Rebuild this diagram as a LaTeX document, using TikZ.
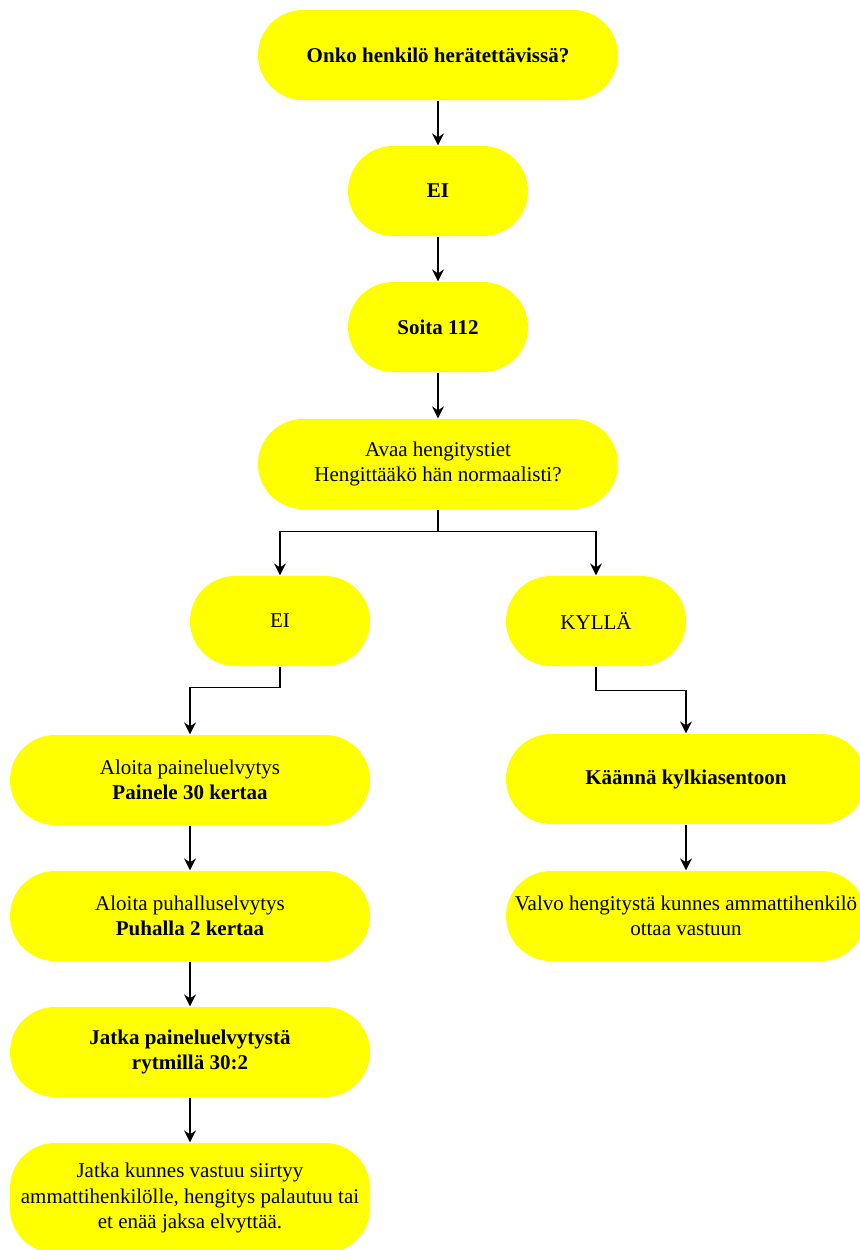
\documentclass[tikz,border=0pt]{standalone}
\usepackage{fontspec}
\setmainfont{Liberation Serif}
\usetikzlibrary{arrows.meta,positioning}
\definecolor{boxyellow}{RGB}{255,255,0}

\begin{document}
\begin{tikzpicture}[x=0.75pt,y=-0.75pt,>={Stealth[length=9pt,width=9pt,inset=3pt]},
 line width=0.9pt,
 font=\fontsize{15.75}{19}\selectfont,
 blk/.style={fill=boxyellow,rounded corners=33.75pt,minimum width=270pt,minimum height=67.5pt,inner sep=0pt,align=center},
 sblk/.style={blk,minimum width=135pt}]
\clip (0,0) rectangle (860,1250);
\node[blk] (q1) at (438,55) {\textbf{Onko henkilö herätettävissä?}};
\node[sblk] (ei1) at (438,191) {\textbf{EI}};
\node[sblk] (call) at (438,327) {\textbf{Soita 112}};
\node[blk] (airway) at (438,464) {Avaa hengitystiet\\Hengittääkö hän normaalisti?};
\node[sblk] (ei2) at (280,621) {EI};
\node[sblk] (kylla) at (596,621) {KYLLÄ};
\node[blk] (cpr) at (190,780) {Aloita paineluelvytys\\\textbf{Painele 30 kertaa}};
\node[blk] (breath) at (190,916) {Aloita puhalluselvytys\\\textbf{Puhalla 2 kertaa}};
\node[blk] (cont) at (190,1052) {\textbf{Jatka paineluelvytystä}\\\textbf{rytmillä 30:2}};
\node[blk,minimum height=82.5pt] (until) at (190,1198) {Jatka kunnes vastuu siirtyy\\ammattihenkilölle, hengitys palautuu tai\\et enää jaksa elvyttää.};
\node[blk] (side) at (686,779) {\textbf{Käännä kylkiasentoon}};
\node[blk] (watch) at (686,916) {Valvo hengitystä kunnes ammattihenkilö\\ottaa vastuun};
% connectors
\draw[->] (q1) -- (ei1);
\draw[->] (ei1) -- (call);
\draw[->] (call) -- (airway);
\draw[->] (airway.south) -- ++(0,22) -| (ei2.north);
\draw[->] (airway.south) -- ++(0,22) -| (kylla.north);
\draw[->] (ei2.south) -- ++(0,21) -| (cpr.north);
\draw[->] (kylla.south) -- ++(0,24) -| (side.north);
\draw[->] (cpr) -- (breath);
\draw[->] (breath) -- (cont);
\draw[->] (cont) -- (until);
\draw[->] (side) -- (watch);
\end{tikzpicture}
\end{document}
